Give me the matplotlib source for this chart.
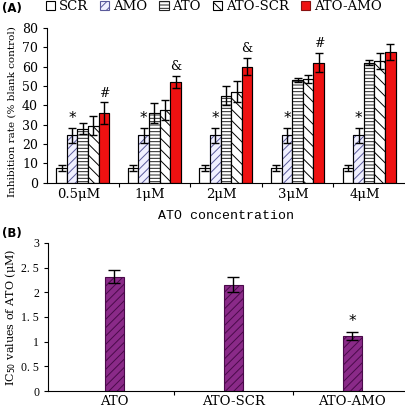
import matplotlib
matplotlib.use("Agg")
import matplotlib.pyplot as plt
import numpy as np
from matplotlib.patches import Patch

plt.rcParams['font.family'] = ['DejaVu Serif', 'Liberation Serif']
plt.rcParams['hatch.linewidth'] = 0.7

# panel A data
concs = ["0.5μM", "1μM", "2μM", "3μM", "4μM"]
series = ["SCR", "AMO", "ATO", "ATO-SCR", "ATO-AMO"]
scr = [7.5, 7.5, 7.5, 7.5, 7.5]
scr_err = [1.5, 1.5, 1.5, 1.5, 1.5]
amo = [24.5, 24.5, 24.5, 24.5, 24.5]
amo_err = [4, 4, 4, 4, 4]
ato = [28, 36, 45, 53, 62]
ato_err = [3, 5, 5, 1.2, 1.2]
ato_scr = [29.5, 37.5, 47, 53.5, 63]
ato_scr_err = [5, 5, 5.5, 2, 4]
ato_amo = [36, 52, 60, 62, 67.5]
ato_amo_err = [5.5, 3, 4.5, 5, 4]
amo_marks = ["*", "*", "*", "*", "*"]
ato_amo_marks = ["#", "&", "&", "#", ""]

# panel B data
groups_b = ["ATO", "ATO-SCR", "ATO-AMO"]
ic50 = [2.32, 2.15, 1.12]
ic50_err = [0.13, 0.15, 0.08]
ic50_marks = ["", "", "*"]

fig = plt.figure(figsize=(4.05, 4.09), dpi=100)

# ---- panel A ----
axA = fig.add_axes([0.116, 0.553, 0.884, 0.379])
vals = [scr, amo, ato, ato_scr, ato_amo]
errs = [scr_err, amo_err, ato_err, ato_scr_err, ato_amo_err]
faces = ["white", "#f0f0ff", "white", "white", "#ee1111"]
hatch_cols = ["black", "#5a5a9a", "#222222", "black", "#881111"]
hatches = [None, "////", "-----", "\\\\\\", None]
w = 0.148
x = np.arange(len(concs))
for i in range(5):
    pos = x + (i - 2) * w
    axA.bar(pos, vals[i], w, color=faces[i], edgecolor=hatch_cols[i],
            hatch=hatches[i], linewidth=0.8)
    axA.bar(pos, vals[i], w, color="none", edgecolor="black", linewidth=0.8)
    axA.errorbar(pos, vals[i], yerr=errs[i], fmt="none", ecolor="black",
                 elinewidth=1.0, capsize=3, capthick=1.0)
for j in range(len(concs)):
    axA.text(x[j] - w, amo[j] + amo_err[j] + 1, amo_marks[j],
             ha="center", va="bottom", fontsize=11, family="DejaVu Sans")
    if ato_amo_marks[j]:
        axA.text(x[j] + 2 * w, ato_amo[j] + ato_amo_err[j] + 1.5, ato_amo_marks[j],
                 ha="center", va="bottom", fontsize=9)
axA.set_ylim(0, 80)
axA.set_xlim(-0.5, 4.5)
axA.set_yticks(range(0, 81, 10))
axA.set_xticks(np.arange(0.5, 4.5, 1))
axA.set_xticklabels([])
axA.set_xticks(x - 0.06, minor=True)
axA.set_xticklabels(concs, minor=True, fontsize=9.5)
axA.tick_params(axis="x", which="minor", length=0, pad=4)
axA.tick_params(axis="x", which="major", length=3, direction="out")
axA.tick_params(axis="y", labelsize=9, length=3)
axA.spines["top"].set_visible(False)
axA.spines["right"].set_visible(False)
axA.set_ylabel("Inhibition rate (% blank control)", fontsize=7.5, labelpad=2)
axA.yaxis.set_label_coords(-0.085, 0.46)
axA.set_xlabel("ATO concentration", fontsize=9.5, family="Liberation Mono", labelpad=6)

handles = [Patch(facecolor=faces[i], edgecolor=hatch_cols[i] if i != 0 else "black",
                 hatch=hatches[i], linewidth=0.8) for i in range(5)]
fig.legend(handles, series, loc="upper left", bbox_to_anchor=(0.10, 1.012), ncol=5,
           frameon=False, fontsize=9.5, handlelength=0.7, handleheight=0.7,
           handletextpad=0.3, columnspacing=0.9, borderaxespad=0)
fig.text(0.005, 0.996, "(A)", fontsize=8.5, fontweight="bold", family="DejaVu Sans",
         ha="left", va="top")

# ---- panel B ----
axB = fig.add_axes([0.119, 0.044, 0.881, 0.362])
xb = np.arange(len(groups_b))
axB.bar(xb, ic50, 0.16, color="#8a2a88", edgecolor="#4a0a4a", hatch="////",
        linewidth=0.8)
axB.errorbar(xb, ic50, yerr=ic50_err, fmt="none", ecolor="black",
             elinewidth=1.0, capsize=4, capthick=1.0)
for j in range(len(groups_b)):
    if ic50_marks[j]:
        axB.text(xb[j], ic50[j] + ic50_err[j] + 0.05, ic50_marks[j],
                 ha="center", va="bottom", fontsize=11, family="DejaVu Sans")
axB.set_xlim(-0.555, 2.445)
axB.set_ylim(0, 3)
axB.set_yticks([0, 0.5, 1, 1.5, 2, 2.5, 3])
axB.set_yticklabels(["0", "0. 5", "1", "1. 5", "2", "2. 5", "3"], fontsize=8.5,
                    family="Liberation Serif")
axB.set_xticks([0.5, 1.5])
axB.set_xticklabels([])
axB.set_xticks(xb, minor=True)
axB.set_xticklabels(groups_b, minor=True, fontsize=9.5)
axB.tick_params(axis="x", which="minor", length=0, pad=3)
axB.tick_params(axis="x", which="major", length=3)
axB.tick_params(axis="y", length=3)
axB.spines["top"].set_visible(False)
axB.spines["right"].set_visible(False)
axB.set_ylabel("IC$_{50}$ values of ATO (μM)", fontsize=8, labelpad=2)
axB.yaxis.set_label_coords(-0.085, 0.5)
fig.text(0.005, 0.445, "(B)", fontsize=8.5, fontweight="bold", family="DejaVu Sans",
         ha="left", va="top")

fig.savefig("out.png", dpi=100)
